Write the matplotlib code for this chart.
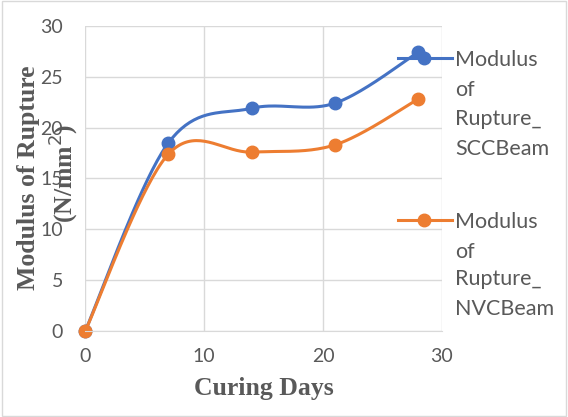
import numpy as np
import matplotlib.pyplot as plt
from matplotlib.patches import Rectangle
from matplotlib.lines import Line2D

days = [0, 7, 14, 21, 28]
scc_beam = [0, 18.5, 21.9, 22.4, 27.4]
nvc_beam = [0, 17.4, 17.6, 18.3, 22.8]
x_ticks = [0, 10, 20, 30]
y_ticks = [0, 5, 10, 15, 20, 25, 30]

blue = "#4472C4"
orange = "#ED7D31"
grey = "#595959"


def smooth(xs, ys, n=40):
    # Excel-style smoothed line: cubic Bezier with Catmull-Rom control points
    p = np.column_stack([xs, ys]).astype(float)
    p = np.vstack([p[0], p, p[-1]])
    out = []
    for i in range(1, len(p) - 2):
        p0, p1, p2, p3 = p[i - 1], p[i], p[i + 1], p[i + 2]
        c1 = p1 + (p2 - p0) / 6
        c2 = p2 - (p3 - p1) / 6
        t = np.linspace(0, 1, n)[:, None]
        seg = (1 - t) ** 3 * p1 + 3 * (1 - t) ** 2 * t * c1 + 3 * (1 - t) * t ** 2 * c2 + t ** 3 * p2
        out.append(seg)
    out = np.vstack(out)
    return out[:, 0], out[:, 1]


fig = plt.figure(figsize=(5.68, 4.17), dpi=100)
ax = fig.add_axes([0.150, 0.206, 0.628, 0.732])

for ys, c in [(scc_beam, blue), (nvc_beam, orange)]:
    sx, sy = smooth(days, ys)
    ax.plot(sx, sy, color=c, linewidth=2.2, solid_capstyle="round", clip_on=False)
    ax.plot(days, ys, "o", color=c, markersize=9, clip_on=False)

ax.set_xlim(0, 30)
ax.set_ylim(0, 30)
ax.set_xticks(x_ticks)
ax.set_yticks(y_ticks)
ax.grid(True, color="#D9D9D9", linewidth=1)
ax.set_axisbelow(True)
for side in ["top", "right", "left"]:
    ax.spines[side].set_visible(False)
ax.spines["bottom"].set_color("#D9D9D9")
ax.tick_params(length=0, labelsize=14, labelcolor=grey)
ax.tick_params(axis="x", pad=12)
ax.tick_params(axis="y", pad=16)
for lbl in ax.get_xticklabels() + ax.get_yticklabels():
    lbl.set_family("Lato")

ax.set_xlabel("Curing Days", family="Liberation Serif", fontsize=18.5,
              fontweight="bold", color=grey, labelpad=9)
fig.text(0.051, 0.573, "Modulus of Rupture", rotation=90, ha="center", va="center",
         family="Liberation Serif", fontsize=18.5, fontweight="bold", color=grey)
fig.text(0.111, 0.585, "(N/mm$^2$)", rotation=90, ha="center", va="center",
         family="Liberation Serif", fontsize=18.5, fontweight="bold", color=grey)

# legend entries drawn beside the plot, one text line at a time
legend_items = [(["Modulus", "of", "Rupture_", "SCCBeam"], blue, [58, 88, 117, 147]),
                (["Modulus", "of", "Rupture_", "NVCBeam"], orange, [220, 250, 277, 307])]
H = 417.0
W = 568.0
for words, c, rows in legend_items:
    y = 1 - rows[0] / H
    fig.add_artist(Line2D([398 / W, 452 / W], [y, y], color=c, linewidth=2.2))
    fig.add_artist(Line2D([424 / W], [y], marker="o", color=c, markersize=9))
    for w, r in zip(words, rows):
        fig.text(455 / W, 1 - r / H, w, ha="left", va="center_baseline", fontsize=15.5,
                 color=grey, family="Lato")

fig.add_artist(Rectangle((0.003, 0.003), 0.994, 0.994, transform=fig.transFigure,
                         fill=False, edgecolor="#D9D9D9", linewidth=1))

fig.savefig("out.png", dpi=100)
